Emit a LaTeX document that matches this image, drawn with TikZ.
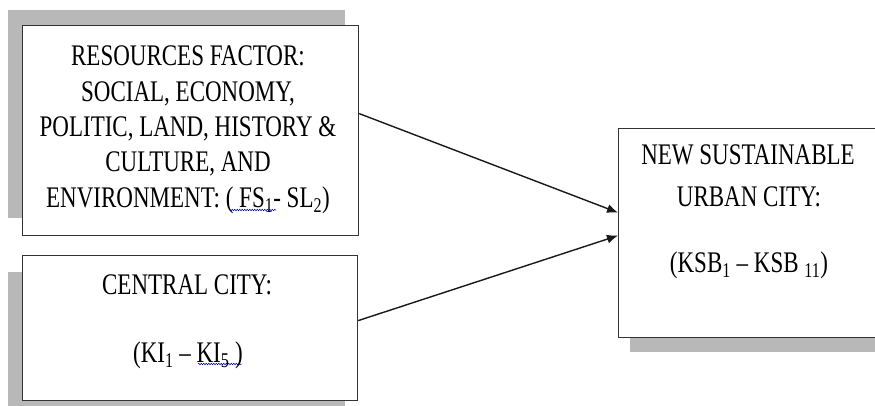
\documentclass[tikz,border=0pt]{standalone}
\usepackage{fontspec}
\usepackage{graphicx}
\setmainfont{Liberation Serif}
\usetikzlibrary{arrows.meta,decorations.pathmorphing}
\tikzset{
  shadowbox/.style={fill=black!28,draw=none},
  framebox/.style={draw=black!80,line width=1.2pt,fill=white,inner sep=0pt,anchor=north west},
  lbl/.style={text=black,inner sep=0pt,font=\fontsize{23}{27.2}\selectfont,align=center},
  arr/.style={draw=black!90,line width=1.4pt,-{Latex[length=11pt,width=9pt]}},
  spell/.style={draw=blue!70!black,line width=0.5pt,decorate,decoration={snake,amplitude=0.8pt,segment length=2.5pt}}
}
\newcommand{\tall}[1]{\scalebox{1}[1.3]{#1}}
\begin{document}
\begin{tikzpicture}[x=1pt,y=-1pt]
\clip (0,0) rectangle (875,405);
\fill[white] (0,0) rectangle (875,405);
% shadows
\fill[shadowbox] (8,10) rectangle (345,218);
\fill[shadowbox] (8,272) rectangle (345,407);
\fill[shadowbox] (630,140) rectangle (890,352);
% boxes
\node[framebox,minimum width=336pt,minimum height=210pt] (b1) at (22,25) {};
\node[framebox,minimum width=335pt,minimum height=145pt] (b2) at (22,255) {};
\node[framebox,minimum width=262pt,minimum height=209pt] (b3) at (618,128) {};
% texts
\node[lbl] (t1) at (188,129.5) {\tall{\begin{tabular}{@{}c@{}}RESOURCES FACTOR:\\SOCIAL, ECONOMY,\\POLITIC, LAND, HISTORY \&\\CULTURE, AND\\ENVIRONMENT: ( FS\textsubscript{1}- SL\textsubscript{2})\end{tabular}}};
\node[lbl] (t2a) at (187,285) {\tall{CENTRAL CITY:}};
\node[lbl] (t2b) at (188,355) {\tall{(KI\textsubscript{1} – KI\textsubscript{5} )}};
\node[lbl] (t3a) at (748,155) {\tall{NEW SUSTAINABLE}};
\node[lbl] (t3b) at (749,197) {\tall{URBAN CITY:}};
\node[lbl] (t3c) at (749,265) {\tall{(KSB\textsubscript{1} – KSB \textsubscript{11})}};
% spell-check underlines
\draw[spell] (229,210) -- (276,210);
\draw[spell] (198,364) -- (242,364);
% arrows
\draw[arr] ([yshift=17pt]b1.east) -- ([yshift=20.5pt]b3.west);
\draw[arr] ([yshift=7.5pt]b2.east) -- ([yshift=-2.5pt]b3.west);
\end{tikzpicture}
\end{document}
